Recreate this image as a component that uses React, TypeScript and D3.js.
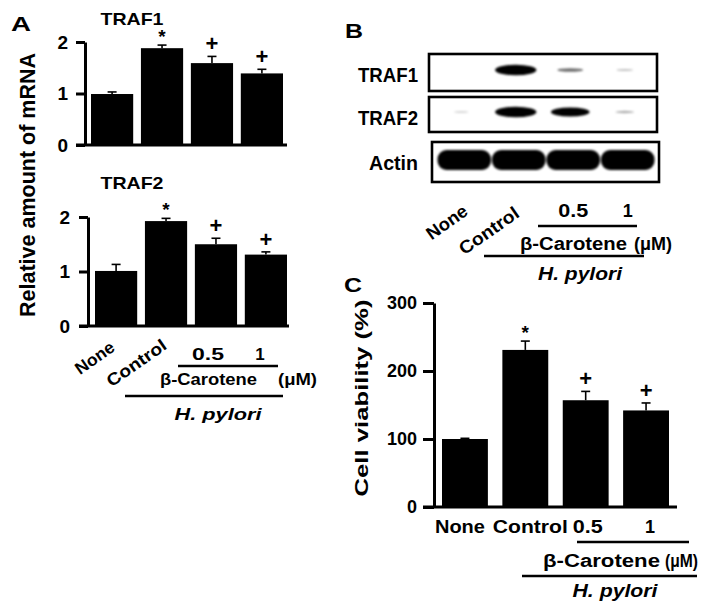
import * as d3 from "d3";
import React, { useEffect, useRef } from "react";

// groups shared by all three panels
const groups = ["None", "Control", "0.5", "1"];

// A: relative mRNA (TRAF1 / TRAF2)
const traf1Mean = [0.99, 1.88, 1.59, 1.39];
const traf1Err = [0.04, 0.06, 0.13, 0.08];
const traf2Mean = [1.01, 1.925, 1.5, 1.31];
const traf2Err = [0.12, 0.05, 0.11, 0.05];
const mrnaTicks = [0, 1, 2];

// C: cell viability (%)
const viabilityMean = [100, 231, 157, 142];
const viabilityErr = [1, 13, 13, 11];
const viabilityTicks = [0, 100, 200, 300];

const marks = ["", "*", "+", "+"];

// B: western blot band intensities (0..1) per lane
const blotRows = ["TRAF1", "TRAF2", "Actin"];
const traf1Bands = [0, 1, 0.45, 0.12];
const traf2Bands = [0.04, 1, 0.9, 0.2];
const actinBands = [1, 1, 1, 1];

const FONT = "'Liberation Sans', Arial, Helvetica, sans-serif";

const App = () => {
  const ref = useRef<SVGSVGElement>(null);

  useEffect(() => {
    const svg = d3.select(ref.current);
    svg.selectAll("*").remove();

    const text = (
      txt: string,
      x: number,
      y: number,
      size: number,
      anchor = "middle",
      len?: number,
      italic = false
    ) => {
      const t = svg
        .append("text")
        .attr("x", x)
        .attr("y", y)
        .attr("font-family", FONT)
        .attr("font-size", size)
        .attr("font-weight", "bold")
        .attr("text-anchor", anchor)
        .attr("fill", "#000")
        .text(txt);
      if (italic) t.attr("font-style", "italic");
      if (len) t.attr("textLength", len).attr("lengthAdjust", "spacingAndGlyphs");
      return t;
    };

    const rotText = (txt: string, x: number, y: number, angle: number, size: number, anchor: string, len?: number) => {
      const t = svg
        .append("text")
        .attr("transform", `translate(${x},${y}) rotate(${angle})`)
        .attr("font-family", FONT)
        .attr("font-size", size)
        .attr("font-weight", "bold")
        .attr("text-anchor", anchor)
        .attr("fill", "#000")
        .text(txt);
      if (len) t.attr("textLength", len).attr("lengthAdjust", "spacingAndGlyphs");
      return t;
    };

    const hline = (x1: number, x2: number, y: number, w = 2.5) =>
      svg
        .append("line")
        .attr("x1", x1)
        .attr("x2", x2)
        .attr("y1", y)
        .attr("y2", y)
        .attr("stroke", "#000")
        .attr("stroke-width", w);

    // generic bar panel
    const barPanel = (o: {
      axisX: number;
      bars: [number, number];
      pad: number;
      yRange: [number, number];
      max: number;
      ticks: number[];
      mean: number[];
      err: number[];
      tickLen: number;
      tickPad: number;
      tickFont: number;
      baseEnd: number;
    }) => {
      const x = d3.scaleBand().domain(groups).range(o.bars).paddingInner(o.pad).paddingOuter(0);
      const y = d3.scaleLinear().domain([0, o.max]).range(o.yRange);
      const g = svg.append("g");

      g.selectAll("rect.bar")
        .data(groups)
        .enter()
        .append("rect")
        .attr("class", "bar")
        .attr("x", (d) => x(d)!)
        .attr("y", (d, i) => y(o.mean[i]))
        .attr("width", x.bandwidth())
        .attr("height", (d, i) => y(0) - y(o.mean[i]))
        .attr("fill", "#000");

      const eb = g.selectAll("g.err").data(groups).enter().append("g").attr("class", "err");
      eb.append("line")
        .attr("x1", (d) => x(d)! + x.bandwidth() / 2)
        .attr("x2", (d) => x(d)! + x.bandwidth() / 2)
        .attr("y1", (d, i) => y(o.mean[i]))
        .attr("y2", (d, i) => y(o.mean[i] + o.err[i]))
        .attr("stroke", "#000")
        .attr("stroke-width", 1.6);
      eb.append("line")
        .attr("x1", (d) => x(d)! + x.bandwidth() / 2 - 4.5)
        .attr("x2", (d) => x(d)! + x.bandwidth() / 2 + 4.5)
        .attr("y1", (d, i) => y(o.mean[i] + o.err[i]))
        .attr("y2", (d, i) => y(o.mean[i] + o.err[i]))
        .attr("stroke", "#000")
        .attr("stroke-width", 1.6);

      // significance marks
      groups.forEach((d, i) => {
        if (!marks[i]) return;
        const top = y(o.mean[i] + o.err[i]);
        const cx = x(d)! + x.bandwidth() / 2;
        if (marks[i] === "*") text("*", cx, top - 2, 19);
        else text("+", cx, top - 5, 22);
      });

      const axis = d3
        .axisLeft(y)
        .tickValues(o.ticks)
        .tickSize(o.tickLen)
        .tickSizeOuter(0)
        .tickPadding(o.tickPad)
        .tickFormat(d3.format("d"));
      const ag = g.append("g").attr("transform", `translate(${o.axisX},0)`).call(axis);
      ag.select(".domain").attr("stroke", "#000").attr("stroke-width", 3);
      ag.selectAll(".tick line").attr("stroke", "#000").attr("stroke-width", 3);
      ag.selectAll(".tick text")
        .attr("font-family", FONT)
        .attr("font-size", o.tickFont)
        .attr("font-weight", "bold")
        .attr("fill", "#000");

      g.append("line")
        .attr("x1", o.axisX - o.tickLen)
        .attr("x2", o.baseEnd)
        .attr("y1", y(0))
        .attr("y2", y(0))
        .attr("stroke", "#000")
        .attr("stroke-width", 3);

      return x;
    };

    // ---------- Panel A ----------
    text("A", 11, 31, 21, "start", 20);
    barPanel({
      axisX: 85,
      bars: [91, 283],
      pad: 0.155,
      yRange: [145, 42],
      max: 2,
      ticks: mrnaTicks,
      mean: traf1Mean,
      err: traf1Err,
      tickLen: 9,
      tickPad: 8,
      tickFont: 19,
      baseEnd: 287,
    });
    text("TRAF1", 132, 25, 17, "middle", 63);

    const xA = barPanel({
      axisX: 88,
      bars: [95, 287],
      pad: 0.155,
      yRange: [326, 217],
      max: 2,
      ticks: mrnaTicks,
      mean: traf2Mean,
      err: traf2Err,
      tickLen: 9,
      tickPad: 9,
      tickFont: 19,
      baseEnd: 289,
    });
    text("TRAF2", 132, 189, 17, "middle", 63);

    rotText("Relative amount of mRNA", 35, 185, -90, 22, "middle", 264);

    const cA = (d: string) => xA(d)! + xA.bandwidth() / 2;
    rotText("None", cA("None") + 0, 350, -35, 17, "end", 44);
    rotText("Control", cA("Control") + 2, 348, -35, 17, "end", 69);
    text("0.5", cA("0.5") - 8, 360, 17, "middle", 32);
    text("1", cA("1") - 6, 360, 17);
    hline(178, 278, 366);
    text("β-Carotene", 160, 385, 17, "start", 97);
    text("(μM)", 278, 385, 17, "start", 39);
    hline(125, 283, 396);
    text("H. pylori", 218, 420, 17, "middle", 87, true);

    // ---------- Panel B ----------
    text("B", 345, 38, 21, "start", 18);
    const lane = d3.scaleBand().domain(groups).range([437, 655]);
    const lc = (d: string) => lane(d)! + lane.bandwidth() / 2;

    const defs = svg.append("defs");
    defs
      .append("filter")
      .attr("id", "blotBlur")
      .attr("x", "-20%")
      .attr("y", "-100%")
      .attr("width", "140%")
      .attr("height", "300%")
      .append("feGaussianBlur")
      .attr("stdDeviation", 1.0);

    const boxes = [
      { x0: 429, x1: 657, y0: 54, y1: 91, ly: 82, len: 60 },
      { x0: 429, x1: 657, y0: 97, y1: 132, ly: 125, len: 60 },
      { x0: 432, x1: 659, y0: 142, y1: 182, ly: 170, len: 49 },
    ];
    blotRows.forEach((r, k) => {
      const b = boxes[k];
      svg
        .append("rect")
        .attr("x", b.x0)
        .attr("y", b.y0)
        .attr("width", b.x1 - b.x0)
        .attr("height", b.y1 - b.y0)
        .attr("fill", "#fff")
        .attr("stroke", "#000")
        .attr("stroke-width", 2.6);
      text(r, 418, b.ly, 21, "end", b.len);
    });

    const bandRow = (vals: number[], cy: number) => {
      const gb = svg.append("g").attr("filter", "url(#blotBlur)");
      gb.selectAll("ellipse")
        .data(groups.filter((d, i) => vals[i] > 0))
        .enter()
        .append("ellipse")
        .attr("cx", (d) => lc(d) - 3)
        .attr("cy", cy)
        .attr("rx", (d) => lane.bandwidth() * (0.12 + 0.26 * vals[groups.indexOf(d)]))
        .attr("ry", (d) => 1 + 4.3 * vals[groups.indexOf(d)] ** 2)
        .attr("fill", "#000")
        .attr("opacity", (d) => Math.min(1, 0.12 + vals[groups.indexOf(d)]));
    };
    bandRow(traf1Bands, 70);
    bandRow(traf2Bands, 112);

    const ga = svg.append("g").attr("filter", "url(#blotBlur)");
    ga.selectAll("rect")
      .data(groups)
      .enter()
      .append("rect")
      .attr("x", (d) => lane(d)! + 0.5)
      .attr("y", 150)
      .attr("width", lane.bandwidth() - 1)
      .attr("height", 20)
      .attr("rx", 9)
      .attr("fill", "#050505")
      .attr("opacity", (d, i) => actinBands[i]);

    rotText("None", lc("None") + 5, 214, -35, 18, "end", 46);
    rotText("Control", lc("Control") + 2, 216, -35, 18, "end", 69);
    text("0.5", lc("0.5"), 217, 18, "middle", 30);
    text("1", lc("1"), 217, 18);
    hline(538, 637, 226);
    text("β-Carotene", 520, 250, 18, "start", 107);
    text("(μM)", 634, 250, 18, "start", 38);
    hline(484, 644, 256);
    text("H. pylori", 580, 280, 18, "middle", 84, true);

    // ---------- Panel C ----------
    text("C", 344, 292, 21, "start", 18);
    const xC = barPanel({
      axisX: 434,
      bars: [442, 669],
      pad: 0.24,
      yRange: [507, 303],
      max: 300,
      ticks: viabilityTicks,
      mean: viabilityMean,
      err: viabilityErr,
      tickLen: 11,
      tickPad: 6,
      tickFont: 18,
      baseEnd: 677,
    });
    rotText("Cell viability (%)", 368, 398, -90, 18, "middle", 197);

    const cC = (d: string) => xC(d)! + xC.bandwidth() / 2;
    const cOffset = [-5, 5, 2, 4];
    const cLen = [50, 75, 30, 0];
    groups.forEach((d, i) => text(d, cC(d) + cOffset[i], 533, 18, "middle", cLen[i] || undefined));
    hline(577, 689, 542);
    text("β-Carotene", 543, 567, 18, "start", 117);
    text("(μM)", 665, 567, 18, "start", 33);
    hline(522, 697, 576);
    text("H. pylori", 615, 597, 18, "middle", 85, true);
  }, []);

  return (
    <svg
      ref={ref}
      width={717}
      height={612}
      style={{ position: "absolute", left: 0, top: 0, background: "#fff" }}
    />
  );
};

export default App;
